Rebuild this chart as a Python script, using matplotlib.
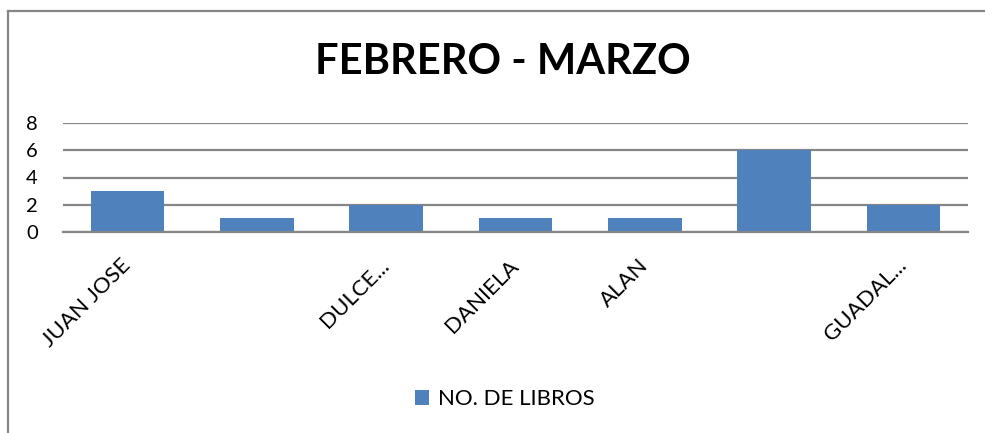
import matplotlib
matplotlib.use("Agg")
import matplotlib.pyplot as plt
from matplotlib.lines import Line2D
from matplotlib.patches import Patch

# data
nombres = ["JUAN JOSE", "", "DULCE...", "DANIELA", "ALAN", "", "GUADAL..."]
libros = [3, 1, 2, 1, 1, 6, 2]
y_ticks = [0, 2, 4, 6, 8]
titulo = "FEBRERO - MARZO"
serie = "NO. DE LIBROS"

bar_color = "#4f81bd"
grid_color = "#868686"
plt.rcParams["font.family"] = ["Lato", "DejaVu Sans"]

fig = plt.figure(figsize=(9.85, 4.33), dpi=100)
W, H = 985, 433

# plot area in pixels: x 63..968, y 123..232
ax = fig.add_axes([63 / W, 1 - 232 / H, (968 - 63) / W, (232 - 123) / H])
x = range(len(nombres))
ax.bar(x, libros, width=0.57, color=bar_color, zorder=3)
ax.set_xlim(-0.5, len(nombres) - 0.5)
ax.set_ylim(0, 8)
ax.set_yticks(y_ticks)
ax.set_yticklabels([str(t) for t in y_ticks], fontsize=14.5)
ax.yaxis.grid(True, color=grid_color, linewidth=1.6, zorder=0)
for s in ["top", "right", "left"]:
    ax.spines[s].set_visible(False)
ax.spines["bottom"].set_color(grid_color)
ax.spines["bottom"].set_linewidth(1.6)
ax.spines["bottom"].set_zorder(4)
ax.tick_params(axis="y", length=0, pad=18)
ax.tick_params(axis="x", length=0, pad=22)
ax.set_xticks(list(x))
ax.set_xticklabels(nombres, rotation=45, ha="right", va="center",
                   rotation_mode="anchor", fontsize=16)

fig.text(503 / W, 1 - 62 / H, titulo, ha="center", va="center",
         fontsize=30, fontweight="bold")

handle = Patch(facecolor=bar_color, edgecolor="none")
fig.legend([handle], [serie], loc="center", bbox_to_anchor=(505 / W, 1 - 399 / H),
           frameon=False, fontsize=16, handlelength=0.65, handleheight=0.65,
           handletextpad=0.4)

# chart border (top and left visible)
fig.add_artist(Line2D([8 / W, 8 / W], [0, 1 - 11 / H], transform=fig.transFigure,
                      color=grid_color, linewidth=1.6))
fig.add_artist(Line2D([8 / W, 984 / W], [1 - 11 / H, 1 - 11 / H],
                      transform=fig.transFigure, color=grid_color, linewidth=1.6))

fig.savefig("out.png", dpi=100)
